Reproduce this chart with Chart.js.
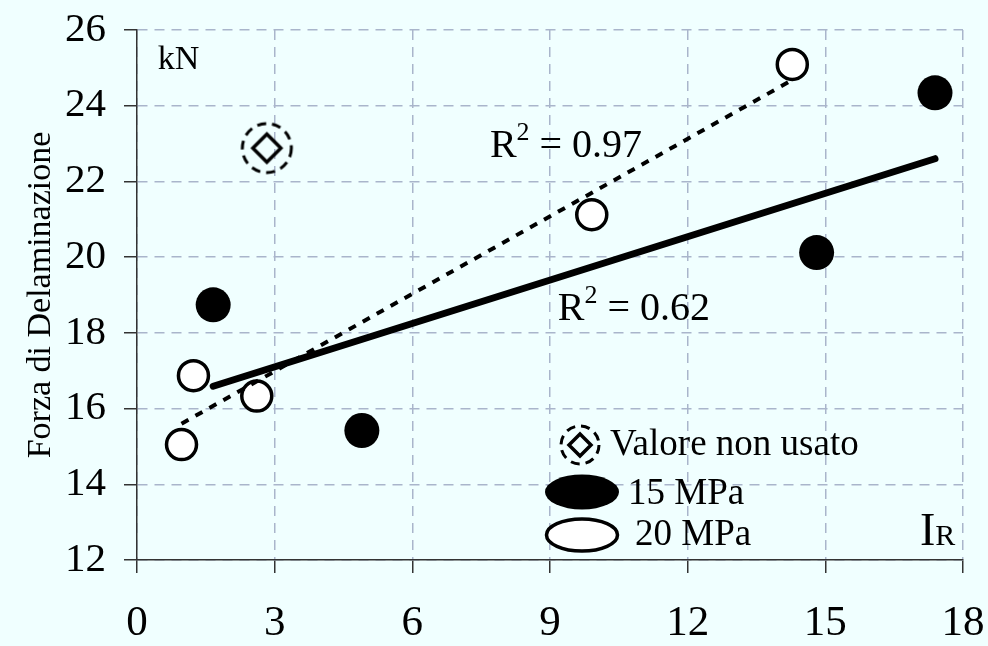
<!DOCTYPE html>
<html>
<head>
<meta charset="utf-8">
<script src="https://cdn.jsdelivr.net/npm/chart.js@4.4.1/dist/chart.umd.min.js"></script>
<style>
  html, body { margin: 0; padding: 0; background: #F0FFFF; }
  #wrap { width: 988px; height: 646px; }
</style>
</head>
<body>
<div id="wrap"><canvas id="chart"></canvas></div>
<script>
'use strict';

const SERIF = "'Liberation Serif', 'Times New Roman', serif";

// 15 MPa
const ir15 = [1.66, 4.90, 14.81, 17.39];
const force15 = [18.74, 15.42, 20.12, 24.34];

// 20 MPa
const ir20 = [0.97, 1.23, 2.61, 9.91, 14.28];
const force20 = [15.05, 16.87, 16.33, 21.12, 25.09];

// valore escluso dalla regressione
const irUnused = [2.83];
const forceUnused = [22.88];

// linee di tendenza (estremi)
const trendIr15 = [1.66, 17.39];
const trendForce15 = [16.59, 22.60];
const trendIr20 = [0.97, 14.28];
const trendForce20 = [15.60, 24.68];

const xTicks = [0, 3, 6, 9, 12, 15, 18];
const yTicks = [12, 14, 16, 18, 20, 22, 24, 26];

// etichette R² in coordinate dati (x, y = linea di base)
const r2Labels = [
  { value: '0.97', x: 7.69, y: 22.65 },
  { value: '0.62', x: 9.17, y: 18.35 },
];

const pts = (xs, ys) => xs.map((x, i) => ({ x, y: ys[i] }));

// cerchio tratteggiato con rombo, per il valore non usato
function unusedIcon(circleR, diamondR) {
  const size = Math.ceil(circleR * 2 + 6);
  const c = document.createElement('canvas');
  c.width = size;
  c.height = size;
  const g = c.getContext('2d');
  const m = size / 2;
  g.strokeStyle = '#000';
  g.lineWidth = 3;
  g.setLineDash([9, 6]);
  g.beginPath();
  g.arc(m, m, circleR, 0, Math.PI * 2);
  g.stroke();
  g.setLineDash([]);
  g.lineWidth = 3.5;
  g.lineJoin = 'miter';
  g.beginPath();
  g.moveTo(m, m - diamondR);
  g.lineTo(m + diamondR, m);
  g.lineTo(m, m + diamondR);
  g.lineTo(m - diamondR, m);
  g.closePath();
  g.stroke();
  return c;
}

const unusedPoint = unusedIcon(24.5, 14);
const unusedLegend = unusedIcon(19, 11);

// l'area del grafico è fissata dal padding del layout, non dalle etichette
const noLabelPadding = s => {
  s.paddingTop = 0;
  s.paddingBottom = 0;
  s.paddingLeft = 0;
  s.paddingRight = 0;
};

const decor = {
  id: 'decor',
  beforeDraw(chart) {
    const { ctx, width, height } = chart;
    ctx.save();
    ctx.fillStyle = '#F0FFFF';
    ctx.fillRect(0, 0, width, height);
    ctx.restore();
  },
  afterDraw(chart) {
    const { ctx, scales: { x, y } } = chart;
    ctx.save();
    ctx.fillStyle = '#000';
    ctx.textBaseline = 'alphabetic';
    ctx.textAlign = 'left';

    // unità
    ctx.font = `34px ${SERIF}`;
    ctx.fillText('kN', x.getPixelForValue(0.45), y.getPixelForValue(24.97));

    // R²
    r2Labels.forEach(l => {
      let px = x.getPixelForValue(l.x);
      const py = y.getPixelForValue(l.y);
      ctx.font = `40px ${SERIF}`;
      ctx.fillText('R', px, py);
      px += ctx.measureText('R').width;
      ctx.font = `26px ${SERIF}`;
      ctx.fillText('2', px, py - 17);
      px += ctx.measureText('2').width;
      ctx.font = `40px ${SERIF}`;
      ctx.fillText(' = ' + l.value, px, py);
    });

    // legenda
    ctx.drawImage(unusedLegend, 580 - unusedLegend.width / 2, 445 - unusedLegend.height / 2);
    ctx.font = `37px ${SERIF}`;
    ctx.textBaseline = 'middle';
    ctx.fillText('Valore non usato', 610, 445);

    ctx.beginPath();
    ctx.ellipse(582, 492, 37, 17.5, 0, 0, Math.PI * 2);
    ctx.fill();
    ctx.fillText('15 MPa', 628, 494);

    ctx.beginPath();
    ctx.ellipse(582, 535, 35.5, 16, 0, 0, Math.PI * 2);
    ctx.fillStyle = '#fff';
    ctx.fill();
    ctx.lineWidth = 3.5;
    ctx.strokeStyle = '#000';
    ctx.stroke();
    ctx.fillStyle = '#000';
    ctx.fillText('20 MPa', 635, 535);

    // titolo asse x
    ctx.textBaseline = 'alphabetic';
    ctx.font = `46px ${SERIF}`;
    ctx.fillText('I', 920, 545);
    const iw = ctx.measureText('I').width;
    ctx.font = `30px ${SERIF}`;
    ctx.fillText('R', 920 + iw, 545);
    ctx.restore();
  },
};

new Chart(document.getElementById('chart'), {
  type: 'scatter',
  data: {
    datasets: [
      {
        label: 'Tendenza 15 MPa',
        data: pts(trendIr15, trendForce15),
        showLine: true,
        borderColor: '#000',
        borderWidth: 7,
        borderCapStyle: 'round',
        pointRadius: 0,
        order: 0,
      },
      {
        label: 'Tendenza 20 MPa',
        data: pts(trendIr20, trendForce20),
        showLine: true,
        borderColor: '#000',
        borderWidth: 4,
        borderDash: [8, 8],
        pointRadius: 0,
        order: 0,
      },
      {
        label: '15 MPa',
        data: pts(ir15, force15),
        pointRadius: 17.5,
        pointBackgroundColor: '#000',
        pointBorderColor: '#000',
        pointBorderWidth: 0,
        order: 1,
      },
      {
        label: '20 MPa',
        data: pts(ir20, force20),
        pointRadius: 15,
        pointBackgroundColor: '#fff',
        pointBorderColor: '#000',
        pointBorderWidth: 3.5,
        order: 1,
      },
      {
        label: 'Valore non usato',
        data: pts(irUnused, forceUnused),
        pointStyle: unusedPoint,
        order: 1,
      },
    ],
  },
  options: {
    responsive: true,
    maintainAspectRatio: false,
    animation: false,
    events: [],
    layout: { padding: { top: 30, right: 25, left: 0, bottom: 0 } },
    plugins: {
      legend: { display: false },
      tooltip: { enabled: false },
    },
    scales: {
      x: {
        type: 'linear',
        min: 0,
        max: 18,
        afterBuildTicks: s => { s.ticks = xTicks.map(v => ({ value: v })); },
        afterFit: s => { s.height = 86; noLabelPadding(s); },
        ticks: {
          color: '#000',
          padding: 25,
          font: { family: SERIF, size: 43 },
        },
        grid: {
          color: '#A9B5CB',
          lineWidth: 1.5,
          tickColor: '#333',
          tickWidth: 1.5,
          tickLength: 13,
        },
        border: { color: '#333', width: 1.5, dash: [10, 7] },
      },
      y: {
        type: 'linear',
        min: 12,
        max: 26,
        afterBuildTicks: s => { s.ticks = yTicks.map(v => ({ value: v })); },
        afterFit: s => { s.width = 137; noLabelPadding(s); },
        ticks: {
          color: '#000',
          padding: 18,
          font: { family: SERIF, size: 41 },
        },
        grid: {
          color: '#A9B5CB',
          lineWidth: 1.5,
          tickColor: '#333',
          tickWidth: 1.5,
          tickLength: 13,
        },
        border: { color: '#333', width: 1.5, dash: [10, 7] },
        title: {
          display: true,
          text: 'Forza di Delaminazione',
          color: '#000',
          font: { family: SERIF, size: 34 },
          padding: { top: 21, bottom: 0 },
        },
      },
    },
  },
  plugins: [decor],
});
</script>
</body>
</html>
